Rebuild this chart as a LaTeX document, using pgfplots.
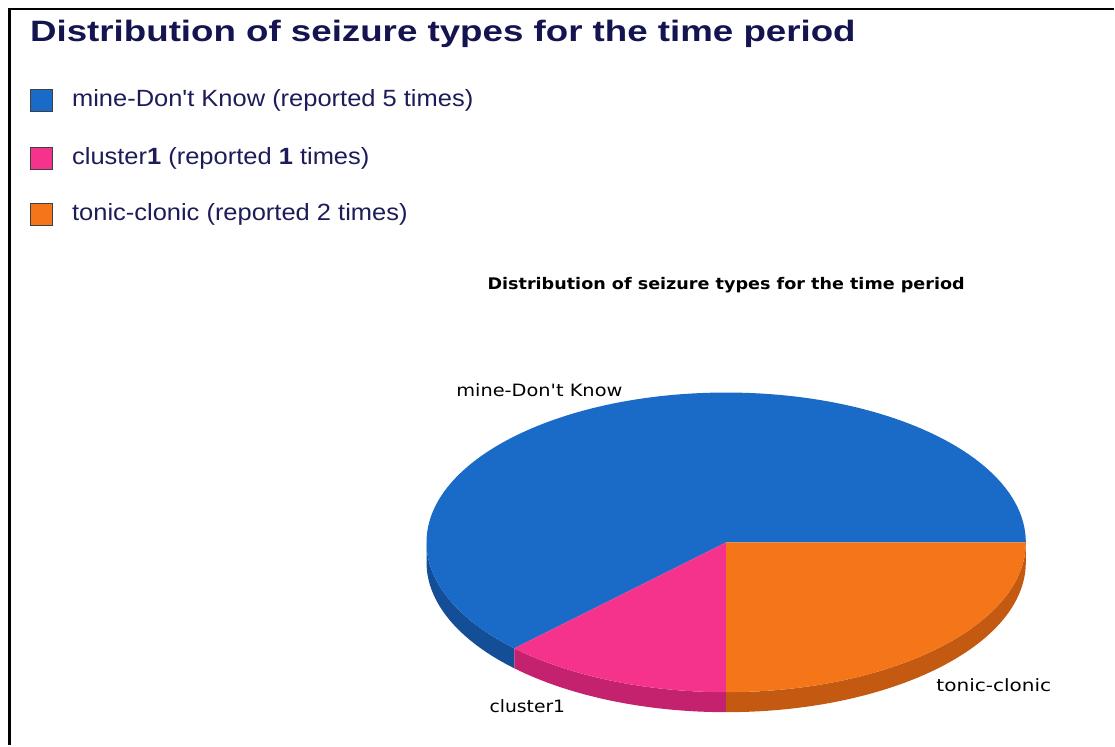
\documentclass[border=0pt]{standalone}
\usepackage{pgfplots}
\pgfplotsset{compat=1.18}
\usepackage{pgfplotstable}
\usepackage{graphicx}
\usepackage{fontspec}
\setmainfont{Liberation Sans}
\newfontfamily\legfont{Liberation Sans}
\newfontfamily\piefont{DejaVu Sans}
\definecolor{pieblue}{RGB}{26,106,200}
\definecolor{piepink}{RGB}{245,51,141}
\definecolor{pieorange}{RGB}{245,117,25}
\definecolor{sideblue}{RGB}{20,78,150}
\definecolor{sidepink}{RGB}{196,34,110}
\definecolor{sideorange}{RGB}{196,90,18}
\definecolor{titlecol}{RGB}{20,20,80}
\definecolor{legcol}{RGB}{28,28,88}

\pgfplotstableread{
label value
mine 5
cluster1 1
tonic 2
}\piedata

\begin{document}
\begin{tikzpicture}
\pgfplotstablegetelem{0}{value}\of\piedata \let\va\pgfplotsretval
\pgfplotstablegetelem{1}{value}\of\piedata \let\vb\pgfplotsretval
\pgfplotstablegetelem{2}{value}\of\piedata \let\vc\pgfplotsretval
\pgfmathsetmacro\tot{\va+\vb+\vc}
\pgfmathsetmacro\aA{360*\va/\tot}
\pgfmathsetmacro\aB{\aA+360*\vb/\tot}
\begin{axis}[width=1115pt,height=746pt,scale only axis,
  xmin=0,xmax=1115,ymin=0,ymax=746,hide axis,clip=false]
% frame
\path (0,0) rectangle (1115,746);
\draw[line width=2.6pt,black] (9.3,0) -- (9.3,737) -- (1115,737);
% title
\node[anchor=west,font=\fontsize{29.5}{32}\selectfont\bfseries,text=titlecol,inner sep=0pt] at (30,712) {\scalebox{1.245}[1]{Distribution of seizure types for the time period}};
% legend
\filldraw[fill=pieblue,draw=black!75,line width=0.8pt] (30,634) rectangle (52,656);
\filldraw[fill=piepink,draw=black!75,line width=0.8pt] (30,576) rectangle (52,598);
\filldraw[fill=pieorange,draw=black!75,line width=0.8pt] (30,520) rectangle (52,542);
\node[anchor=west,font=\legfont\fontsize{23.5}{26}\selectfont,text=legcol,inner sep=0pt] at (72,645) {\scalebox{1.085}[1]{mine-Don't Know (reported \va\ times)}};
\node[anchor=west,font=\legfont\fontsize{23.5}{26}\selectfont,text=legcol,inner sep=0pt] at (72,587) {\scalebox{1.085}[1]{cluster\textbf{1} (reported \textbf{\vb} times)}};
\node[anchor=west,font=\legfont\fontsize{23.5}{26}\selectfont,text=legcol,inner sep=0pt] at (72,531) {\scalebox{1.085}[1]{tonic-clonic (reported \vc\ times)}};
% chart title
\node[font=\piefont\bfseries\fontsize{16}{18}\selectfont,inner sep=0pt] at (727,461) {\scalebox{1.1}[1]{Distribution of seizure types for the time period}};
% sides
\fill[sideblue] ({727+300*cos(180)},{203}) arc[start angle=180,end angle=\aA,x radius=300pt,y radius=150pt] -- ++(0,-20pt) arc[start angle=\aA,end angle=180,x radius=300pt,y radius=150pt] -- cycle;
\fill[sidepink] ({727+300*cos(\aA)},{203+150*sin(\aA)}) arc[start angle=\aA,end angle=\aB,x radius=300pt,y radius=150pt] -- ++(0,-20pt) arc[start angle=\aB,end angle=\aA,x radius=300pt,y radius=150pt] -- cycle;
\fill[sideorange] ({727+300*cos(\aB)},{203+150*sin(\aB)}) arc[start angle=\aB,end angle=360,x radius=300pt,y radius=150pt] -- ++(0,-20pt) arc[start angle=360,end angle=\aB,x radius=300pt,y radius=150pt] -- cycle;
% top faces
\fill[pieblue] (727,203) -- (1027,203) arc[start angle=0,end angle=\aA,x radius=300pt,y radius=150pt] -- cycle;
\fill[piepink] (727,203) -- ({727+300*cos(\aA)},{203+150*sin(\aA)}) arc[start angle=\aA,end angle=\aB,x radius=300pt,y radius=150pt] -- cycle;
\fill[pieorange] (727,203) -- ({727+300*cos(\aB)},{203+150*sin(\aB)}) arc[start angle=\aB,end angle=360,x radius=300pt,y radius=150pt] -- cycle;
% labels
\node[font=\piefont\fontsize{17}{19}\selectfont,inner sep=0pt] at (540,355) {\scalebox{1.14}[1]{mine-Don't Know}};
\node[font=\piefont\fontsize{17}{19}\selectfont,inner sep=0pt] at (528,39) {\scalebox{1.1}[1]{cluster1}};
\node[font=\piefont\fontsize{17}{19}\selectfont,inner sep=0pt] at (995,60) {\scalebox{1.18}[1]{tonic-clonic}};
\end{axis}
\end{tikzpicture}
\end{document}
